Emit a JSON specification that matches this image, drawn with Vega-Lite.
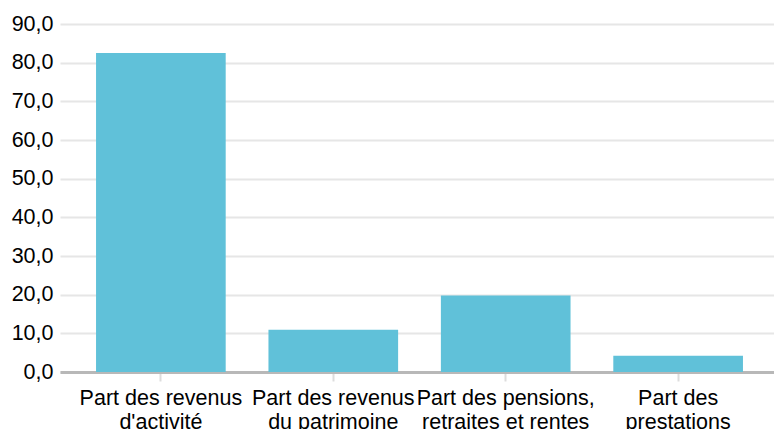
{
  "$schema": "https://vega.github.io/schema/vega-lite/v6.json",
  "width": 719,
  "height": 348,
  "autosize": "none",
  "padding": {"left": 60, "top": 24, "right": 0, "bottom": 57},
  "background": "white",
  "data": {
    "values": [
      {"categorie": "Part des revenus d'activité", "part": 82.5},
      {"categorie": "Part des revenus du patrimoine", "part": 10.9},
      {"categorie": "Part des pensions, retraites et rentes", "part": 19.8},
      {"categorie": "Part des prestations", "part": 4.2}
    ]
  },
  "mark": {"type": "bar", "color": "#60c1d9"},
  "encoding": {
    "x": {
      "field": "categorie",
      "type": "nominal",
      "sort": null,
      "title": null,
      "scale": {"paddingInner": 0.248, "paddingOuter": 0.209},
      "axis": {
        "labelAngle": 0,
        "labelFont": "Liberation Sans",
        "labelFontSize": 21.5,
        "labelColor": "#000000",
        "labelLineHeight": 24,
        "labelPadding": 6,
        "tickSize": 9,
        "tickColor": "#dddddd",
        "tickWidth": 2,
        "domainColor": "#b8b8b8",
        "domainWidth": 3,
        "labelExpr": "indexof(datum.label,'prestations')>=0 ? ['Part des','prestations'] : [join(slice(split(datum.label,' '),0,3),' '), join(slice(split(datum.label,' '),3),' ')]"
      }
    },
    "y": {
      "field": "part",
      "type": "quantitative",
      "title": null,
      "scale": {"domain": [0, 90], "nice": false},
      "axis": {
        "values": [0, 10, 20, 30, 40, 50, 60, 70, 80, 90],
        "domain": false,
        "ticks": false,
        "labelFont": "Liberation Sans",
        "labelFontSize": 21.5,
        "labelColor": "#000000",
        "labelPadding": 7,
        "gridColor": "#e6e6e6",
        "gridWidth": 2,
        "labelExpr": "replace(format(datum.value, '.1f'), '.', ',')"
      }
    }
  },
  "config": {"view": {"stroke": null}}
}
